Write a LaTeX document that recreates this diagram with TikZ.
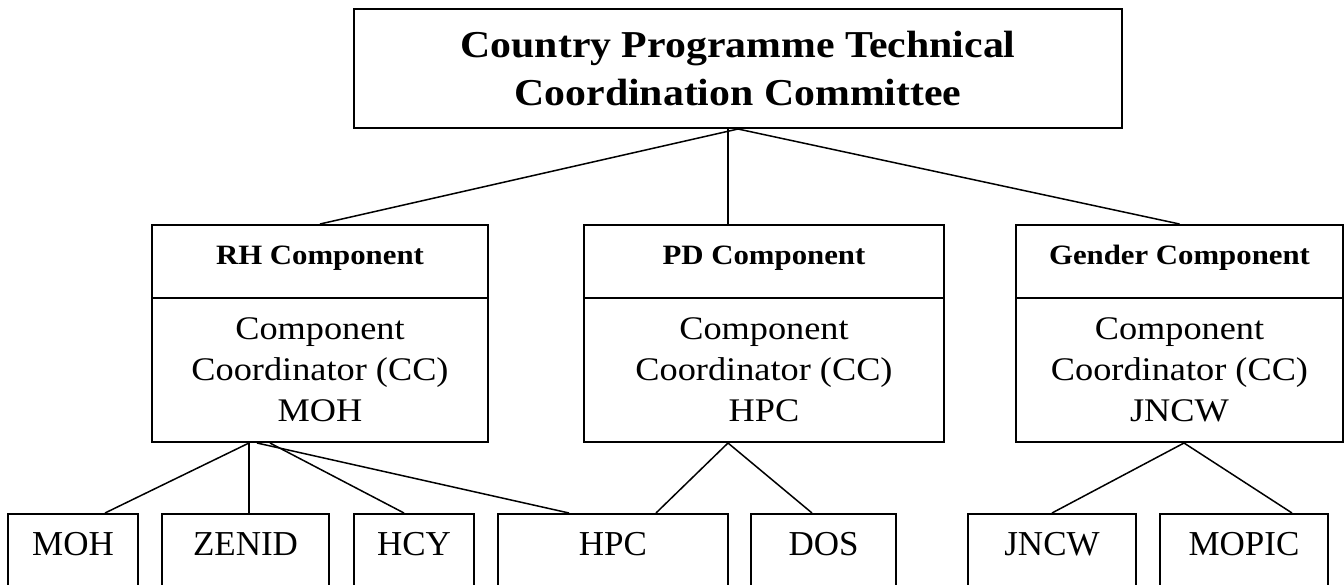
\documentclass[tikz,border=0pt]{standalone}
\usepackage{fontspec}
\setmainfont{Liberation Serif}
\newfontfamily\garfont[FakeStretch=1.1]{Liberation Serif}
\usetikzlibrary{calc}
\begin{document}
\begin{tikzpicture}[x=0.5pt,y=-0.5pt]
	\tikzset{box/.style = {shape=rectangle,draw,line width=1pt,inner sep=0pt}}
	\tikzset{head/.style = {box,anchor=north,text height=19.5pt,text depth=17pt,font=\garfont\bfseries\fontsize{14}{17}\selectfont}}
	\tikzset{body/.style = {box,anchor=north,minimum height=72pt,align=center,font=\garfont\fontsize{16.5}{20.5}\selectfont}}
	\tikzset{unit/.style = {box,anchor=north,text height=20.5pt,text depth=33pt,font=\fontsize{17.5}{21}\selectfont}}
	\tikzset{link/.style = {draw,line width=0.75pt}}
	\useasboundingbox (0,0) rectangle (1344,584);
	\node[box,minimum width=384pt,minimum height=59.5pt,align=center,font=\garfont\bfseries\fontsize{19}{24.5}\selectfont] (cptcc) at (738,68.5) {Country Programme Technical\\Coordination Committee};
	\node[head,minimum width=168pt] (rh) at (320,224) {RH Component};
	\node[body,minimum width=168pt] (rhcc) at (320,297) {Component\\Coordinator (CC)\\MOH};
	\node[head,minimum width=180pt] (pd) at (764,224) {PD Component};
	\node[body,minimum width=180pt] (pdcc) at (764,297) {Component\\Coordinator (CC)\\HPC};
	\node[head,minimum width=163.5pt] (gen) at (1179.5,224) {Gender Component};
	\node[body,minimum width=163.5pt] (gencc) at (1179.5,297) {Component\\Coordinator (CC)\\JNCW};
	\node[unit,minimum width=65pt] (moh) at (73,513) {MOH};
	\node[unit,minimum width=83.5pt] (zenid) at (245.5,513) {ZENID};
	\node[unit,minimum width=60pt] (hcy) at (414,513) {HCY};
	\node[unit,minimum width=115pt] (hpc) at (613,513) {HPC};
	\node[unit,minimum width=72.5pt] (dos) at (823.5,513) {DOS};
	\node[unit,minimum width=84pt] (jncw) at (1052,513) {JNCW};
	\node[unit,minimum width=84pt] (mopic) at (1244,513) {MOPIC};
	\coordinate (pdtop) at ($(cptcc.south)+(-10,0)$);
	\path[link] (cptcc.south) -- (rh.north);
	\path[link] (pdtop) -- (pdtop |- pd.north);
	\path[link] (cptcc.south) -- (gen.north);
	\path[link] ($(rhcc.south)+(-71,0)$) -- ($(moh.north)+(32,0)$);
	\path[link] ($(rhcc.south)+(-71,0)$) -- ($(zenid.north)+(3.5,0)$);
	\path[link] ($(rhcc.south)+(-50,0)$) -- ($(hcy.north)+(-10,0)$);
	\path[link] ($(rhcc.south)+(-63,0)$) -- ($(hpc.north)+(-44,0)$);
	\path[link] ($(pdcc.south)+(-36,0)$) -- ($(hpc.north)+(43,0)$);
	\path[link] ($(pdcc.south)+(-36,0)$) -- ($(dos.north)+(-11.5,0)$);
	\path[link] ($(gencc.south)+(4.5,0)$) -- (jncw.north);
	\path[link] ($(gencc.south)+(4.5,0)$) -- ($(mopic.north)+(48,0)$);
\end{tikzpicture}
\end{document}
